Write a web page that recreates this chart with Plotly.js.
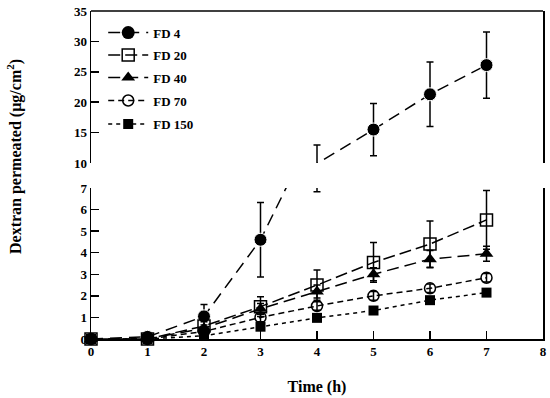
<!DOCTYPE html>
<html>
<head>
<meta charset="utf-8">
<script src="https://cdn.plot.ly/plotly-3.0.1.min.js"></script>
<style>html,body{margin:0;padding:0;background:#fff}#chart{width:550px;height:398px}</style>
</head>
<body>
<div id="chart"></div>
<script>
const time = [0, 1, 2, 3, 4, 5, 6, 7];
const seriesNames = ["FD 4", "FD 20", "FD 40", "FD 70", "FD 150"];
const fd4 = [0, 0.1, 1.05, 4.6, 9.9, 15.5, 21.3, 26.1];
const fd4Err = [0, 0.05, 0.55, 1.73, 3.07, 4.3, 5.3, 5.45];
const fd20 = [0, 0, 0.6, 1.5, 2.5, 3.55, 4.4, 5.52];
const fd20Err = [0, 0, 0.2, 0.46, 0.7, 0.92, 1.07, 1.36];
const fd40 = [0, 0, 0.5, 1.4, 2.2, 3.0, 3.7, 3.95];
const fd40Err = [0, 0, 0.15, 0.25, 0.3, 0.3, 0.4, 0.35];
const fd70 = [0, 0, 0.35, 1.0, 1.53, 2.0, 2.35, 2.84];
const fd70Err = [0, 0, 0.1, 0.2, 0.2, 0.2, 0.2, 0.2];
const fd150 = [0, 0, 0.15, 0.57, 0.98, 1.32, 1.8, 2.15];
const fd150Err = [0, 0, 0.05, 0.1, 0.1, 0.1, 0.1, 0.1];
const xTicks = [0, 1, 2, 3, 4, 5, 6, 7, 8];
const yLowTicks = [0, 1, 2, 3, 4, 5, 6, 7];
const yHighTicks = [10, 15, 20, 25, 30, 35];
const lowRange = [0, 7];
const highRange = [10, 35];

const FONT = "Liberation Serif, Times New Roman, serif";
const black = "#000";

function err(arr) {
  return {type: "data", array: arr, visible: true, color: black, thickness: 1.5, width: 3.5};
}
function tr(name, y, e, marker, dash, yaxis, legendId, showlegend, clip) {
  return {
    x: time, y: y, name: name, type: "scatter", mode: "lines+markers",
    yaxis: yaxis, legend: legendId, showlegend: showlegend, cliponaxis: clip,
    line: {color: black, width: 1.5, dash: dash},
    marker: Object.assign({opacity: 1}, marker), error_y: err(e)
  };
}
// markers of the broken-axis series are only drawn inside their own panel
const fd4SizeLow = fd4.map(v => (v <= lowRange[1] ? 13 : 0));
const fd4SizeHigh = fd4.map(v => (v >= highRange[0] ? 13 : 0));

const data = [
  {
    x: [null], y: [null], name: seriesNames[0], type: "scatter", mode: "lines+markers",
    legend: "legend", showlegend: true, line: {color: black, width: 1.5, dash: "12px,7px"},
    marker: {symbol: "circle", size: 13, color: black}
  },
  tr(seriesNames[0], fd4, fd4Err, {symbol: "circle", size: fd4SizeLow, color: black}, "12px,7px", "y", "legend", false, true),
  tr(seriesNames[1], fd20, fd20Err, {symbol: "square-open", size: 12, color: black, line: {width: 1.5}}, "12px,5px", "y", "legend2", true, false),
  tr(seriesNames[2], fd40, fd40Err, {symbol: "triangle-up", size: 12, color: black}, "12px,6px", "y", "legend3", true, false),
  tr(seriesNames[3], fd70, fd70Err, {symbol: "circle-open", size: 11, color: black, line: {width: 1.5}}, "6px,4px", "y", "legend4", true, false),
  tr(seriesNames[4], fd150, fd150Err, {symbol: "square", size: 10, color: black}, "4px,4px", "y", "legend5", true, false),
  tr(seriesNames[0], fd4, fd4Err, {symbol: "circle", size: fd4SizeHigh, color: black}, "12px,7px", "y2", "legend", false, true)
];

const axisCommon = {
  showline: true, linecolor: black, linewidth: 1.5,
  ticks: "inside", ticklen: 8, tickwidth: 1.5, tickcolor: black,
  showgrid: false, zeroline: false,
  tickfont: {family: FONT, size: 13, color: black, weight: "bold"}
};

function legendAt(yPaper) {
  return {
    x: 0.027, y: yPaper, xanchor: "left", yanchor: "middle",
    bgcolor: "rgba(0,0,0,0)", itemwidth: 40,
    font: {family: FONT, size: 13, color: black, weight: "bold"}
  };
}

const layout = {
  width: 550, height: 398,
  margin: {l: 91, r: 7, t: 11, b: 59},
  paper_bgcolor: "#fff", plot_bgcolor: "#fff",
  showlegend: true,
  legend: legendAt(0.934),
  legend2: legendAt(0.866),
  legend3: legendAt(0.797),
  legend4: legendAt(0.727),
  legend5: legendAt(0.655),
  xaxis: Object.assign({}, axisCommon, {
    range: [0, 8], tickvals: xTicks, anchor: "y", layer: "below traces",
    title: {text: "Time (h)", font: {family: FONT, size: 16, color: black, weight: "bold"}, standoff: 22}
  }),
  yaxis: Object.assign({}, axisCommon, {
    range: lowRange, tickvals: yLowTicks, domain: [0, 0.4604], mirror: true, layer: "below traces"
  }),
  yaxis2: Object.assign({}, axisCommon, {
    range: highRange, tickvals: yHighTicks, domain: [0.5366, 1], mirror: true, anchor: "x", layer: "below traces"
  }),
  shapes: [
    {type: "line", xref: "paper", yref: "paper", x0: 0, x1: 1, y0: 1, y1: 1, line: {color: black, width: 1.5}}
  ],
  annotations: [
    {text: "Dextran permeated (µg/cm<sup>2</sup>)", xref: "paper", yref: "paper", x: -0.168, y: 0.555,
     xanchor: "center", yanchor: "middle", textangle: -90, showarrow: false,
     font: {family: FONT, size: 16, color: black, weight: "bold"}}
  ]
};

Plotly.newPlot("chart", data, layout, {displayModeBar: false, staticPlot: true});
</script>
</body>
</html>
